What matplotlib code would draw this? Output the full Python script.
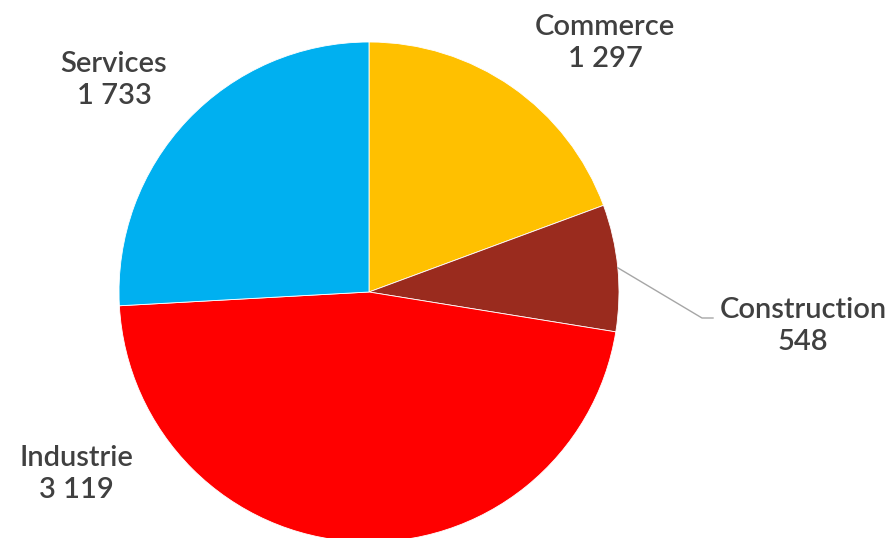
import matplotlib
matplotlib.use('Agg')
import matplotlib.pyplot as plt
import numpy as np

sectors = ['Commerce', 'Construction', 'Industrie', 'Services']
values = [1297, 548, 3119, 1733]
value_labels = ['1 297', '548', '3 119', '1 733']
colors = ['#FFC000', '#9A2B1E', '#FF0000', '#00B0F0']

W, H = 893, 538
fig = plt.figure(figsize=(W / 100, H / 100), dpi=100)
ax = fig.add_axes([0, 0, 1, 1])

cx, cy, r = 369, H - 292, 250
wedges, _ = ax.pie(values, colors=colors, startangle=90, counterclock=False,
                   center=(cx, cy), radius=r, frame=True,
                   wedgeprops=dict(linewidth=0.6, edgecolor='white'))
ax.set_xlim(0, W)
ax.set_ylim(0, H)
ax.set_aspect('equal')
ax.axis('off')

# label positions (pixels, top-left origin)
label_pos = {
    'Commerce': (605, 43),
    'Construction': (803, 326),
    'Industrie': (76, 474),
    'Services': (114, 80),
}
for name, val in zip(sectors, value_labels):
    x, y = label_pos[name]
    ax.text(x, H - y, name + '\n' + val, ha='center', va='center',
            fontsize=21, color='#404040', family='Lato', fontweight='semibold',
            linespacing=1.32)

# leader line for the small slice
w = wedges[1]
mid = np.deg2rad((w.theta1 + w.theta2) / 2)
x0 = cx + r * np.cos(mid)
y0 = cy + r * np.sin(mid)
ax.plot([x0, 702, 713], [y0, H - 318, H - 318], color='#A6A6A6', lw=1)

fig.savefig('out.png', dpi=100)
